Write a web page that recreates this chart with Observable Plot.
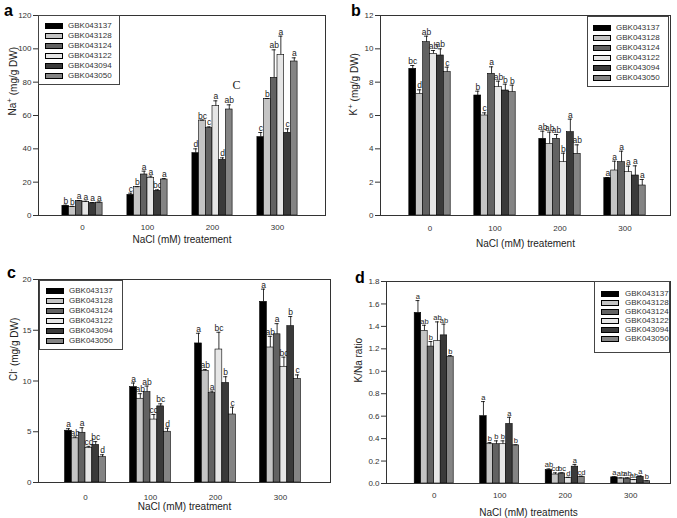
<!DOCTYPE html>
<html><head><meta charset="utf-8">
<script src="https://cdn.jsdelivr.net/npm/d3@7"></script>
<script src="https://cdn.jsdelivr.net/npm/@observablehq/plot@0.6"></script>
<style>
body{margin:0;background:#fff;}
#wrap{position:relative;width:677px;height:518px;overflow:hidden;font-family:"Liberation Sans",Arial,sans-serif;background:#fff;}
.panel{position:absolute;}
.letter{position:absolute;font-weight:bold;font-size:16px;line-height:16px;color:#000;}
.legend{position:absolute;border:1px solid #444;background:#fff;box-sizing:border-box;}
.sw{position:absolute;width:18px;height:6px;border:1px solid #000;box-sizing:border-box;}
.lt{position:absolute;font-size:8px;line-height:8px;color:#333;white-space:nowrap;}
</style></head>
<body><div id="wrap"></div>
<script>
const treatments = [0, 100, 200, 300];
const genotypes = ["GBK043137","GBK043128","GBK043124","GBK043122","GBK043094","GBK043050"];
const fills = ["#000000","#c4c4c4","#626262","#e6e6e6","#3a3a3a","#848484"];

// Panel a: Na+
const naMean = [[5.8,5.2,8.6,8.0,7.4,7.7],[12.4,17.0,24.6,22.6,14.8,21.6],[37.4,57.0,52.4,65.6,33.4,63.6],[47.0,70.0,82.6,96.4,49.6,92.4]];
const naErr  = [[0.4,0.3,0.4,0.6,0.3,0.4],[1.0,0.3,2.0,1.0,0.6,0.6],[2.6,0.2,0.8,3.2,1.2,2.8],[2.8,0.2,16.8,11.2,2.4,2.2]];
const naLet  = [["b","b","a","a","a","a"],["c","b","a","a","bc","a"],["d","bc","c","a","d","ab"],["c","b","ab","a","c","a"]];
const naTicks = [0,20,40,60,80,100,120];
const naNote = [{t:200, y:78, text:"C"}];

// Panel b: K+
const kMean = [[8.8,7.3,10.4,9.7,9.6,8.6],[7.2,6.0,8.5,7.7,7.5,7.4],[4.6,4.3,4.6,3.2,5.0,3.7],[2.24,2.7,3.2,2.6,2.4,1.8]];
const kErr  = [[0.2,0.24,0.36,0.2,0.4,0.3],[0.26,0.16,0.42,0.36,0.38,0.42],[0.46,0.7,0.26,0.54,0.78,0.54],[0.04,0.56,0.66,0.36,0.58,0.36]];
const kLet  = [["bc","d","ab","ab","ab","c"],["b","c","a","ab","b","b"],["ab","ab","ab","b","a","ab"],["a","a","a","a","a","a"]];
const kTicks = [0,2,4,6,8,10,12];

// Panel c: Cl-
const clMean = [[5.1,4.35,4.9,3.4,3.7,2.5],[9.4,8.25,8.9,6.2,7.5,5.0],[13.7,11.0,8.8,13.1,9.8,6.7],[17.8,13.3,14.6,11.4,15.4,10.2]];
const clErr  = [[0.2,0.13,0.5,0.16,0.33,0.23],[0.4,0.5,0.6,0.5,0.25,0.35],[1.0,0.13,0.2,1.7,0.62,0.72],[1.25,1.1,1.05,0.95,0.95,0.4]];
const clLet  = [["a","ab","a","cd","bc","d"],["a","ab","ab","cd","bc","d"],["a","ab","a","bc","b","c"],["a","ab","a","bc","b","c"]];
const clTicks = [0,5,10,15,20];

// Panel d: K/Na ratio
const rMean = [[1.52,1.36,1.22,1.27,1.32,1.13],[0.60,0.35,0.35,0.35,0.53,0.34],[0.12,0.08,0.09,0.05,0.15,0.06],[0.055,0.045,0.045,0.03,0.06,0.02]];
const rErr  = [[0.11,0.05,0.045,0.17,0.1,0.01],[0.13,0.015,0.03,0.03,0.06,0.005],[0.01,0.015,0.005,0.005,0.02,0.005],[0.005,0.005,0.005,0.005,0.008,0.004]];
const rLet  = [["a","ab","b","ab","ab","b"],["a","b","b","b","a","b"],["ab","cd","bc","d","a","cd"],["a","ab","ab","ab","a","b"]];
const rTicks = [0,0.2,0.4,0.6,0.8,1.0,1.2,1.4,1.6,1.8];

const panels = [
  {id:"a", mean:naMean, err:naErr, let:naLet, ticks:naTicks, fmt:d=>d, notes:naNote, lfs:8.5,
   ylab:["Na","+"," (mg/g DW)"], xlab:"NaCl (mM) treatement",
   left:0, top:0, w:338, h:258, mL:38, mR:13, mT:15, mB:43, c0:82, step:65, bw:6.7, tp:8.5, xdy:24, ydx:-26,
   letter:{x:4,y:3}, legend:{x:38,y:15,w:82,h:70,sx:6,tx:29,r0:10,rs:10}},
  {id:"b", mean:kMean, err:kErr, let:kLet, ticks:kTicks, fmt:d=>d, notes:[], lfs:8.5,
   ylab:["K","+"," (mg/g DW)"], xlab:"NaCl (mM) treatement",
   left:338, top:0, w:339, h:258, mL:42, mR:7, mT:15, mB:43, c0:91.5, step:65, bw:6.9, tp:9.5, xdy:28, ydx:-27,
   letter:{x:13,y:3}, legend:{x:587,y:16,w:82,h:71,sx:5,tx:28,r0:10.5,rs:10}},
  {id:"c", mean:clMean, err:clErr, let:clLet, ticks:clTicks, fmt:d=>d, notes:[], lfs:8.5,
   ylab:["Cl","-"," (mg/g DW)"], xlab:"NaCl (mM) treatment",
   left:0, top:258, w:338, h:260, mL:38, mR:8, mT:21, mB:36, c0:85, step:65, bw:6.8, tp:11.5, xdy:24, ydx:-25,
   letter:{x:7,y:7}, legend:{x:39,y:280,w:84,h:70,sx:6,tx:29,r0:10.3,rs:9.9}},
  {id:"d", mean:rMean, err:rErr, let:rLet, ticks:rTicks, fmt:d3.format(".1f"), notes:[], lfs:7.5,
   ylab:["K/Na ratio","",""], xlab:"NaCl (mM) treatments",
   left:338, top:258, w:339, h:260, mL:48, mR:7, mT:23, mB:35, c0:95.7, step:65.5, bw:6.5, tp:9, xdy:29, ydx:-28,
   letter:{x:17,y:12}, legend:{x:594,y:281,w:76,h:72,sx:6,tx:30,r0:12,rs:9}}
];

const wrap = document.getElementById("wrap");
const font = "'Liberation Sans', Arial, sans-serif";

for (const p of panels) {
  const rows = [];
  treatments.forEach((t, ti) => genotypes.forEach((g, gi) =>
    rows.push({t, g, gi, v: p.mean[ti][gi], e: p.err[ti][gi], lab: p.let[ti][gi]})));
  const bw = p.bw;
  const marks = [];
  genotypes.forEach((g, gi) => {
    const d = rows.filter(r => r.gi === gi);
    const off = (gi - 2.5) * bw;
    marks.push(Plot.barY(d, {x: "t", y: "v", insetLeft: gi * bw, insetRight: (5 - gi) * bw,
      fill: fills[gi], stroke: "#000", strokeWidth: 0.6}));
    marks.push(Plot.ruleX(d, {x: "t", y1: "v", y2: r => r.v + r.e, dx: off, stroke: "#000", strokeWidth: 0.8}));
    marks.push(Plot.tickY(d, {x: "t", y: r => r.v + r.e, insetLeft: gi * bw + bw * 0.2,
      insetRight: (5 - gi) * bw + bw * 0.2, stroke: "#000", strokeWidth: 0.8}));
    marks.push(Plot.text(d, {x: "t", y: r => r.v + r.e, text: "lab", dx: off, dy: -1.5,
      lineAnchor: "bottom", fontSize: p.lfs, fill: "#222"}));
  });
  for (const n of p.notes) {
    marks.push(Plot.text([n], {x: "t", y: "y", text: "text", dx: 24, fontFamily: "'Liberation Serif', 'DejaVu Serif', serif", fontSize: 12, fill: "#222"}));
  }
  marks.push(Plot.frame({stroke: "#333", strokeWidth: 1}));
  marks.push(Plot.text([p.xlab], {frameAnchor: "bottom", dy: p.xdy, lineAnchor: "middle", fontSize: 10, fill: "#222"}));
  marks.push(Plot.text([p.ylab.join("")], {frameAnchor: "left", dx: p.ydx, rotate: -90, lineAnchor: "middle", fontSize: 10, fill: "#222"}));

  const W = 3 * p.step + 6 * bw;
  const r0 = p.c0 - 3 * bw;
  const chart = Plot.plot({
    width: p.w, height: p.h,
    marginLeft: p.mL, marginRight: p.mR, marginTop: p.mT, marginBottom: p.mB,
    style: {fontFamily: font, fontSize: "8px", background: "transparent", color: "#333", overflow: "visible"},
    x: {type: "band", domain: treatments, range: [r0, r0 + W], paddingInner: (p.step - 6 * bw) / p.step,
        paddingOuter: 0, round: false, tickSize: 0, tickPadding: p.tp, label: null},
    y: {domain: [0, p.ticks[p.ticks.length - 1]], ticks: p.ticks, tickFormat: p.fmt, tickSize: 5, tickPadding: 2, label: null},
    marks
  });
  chart.classList.add("panel");
  chart.style.left = p.left + "px";
  chart.style.top = p.top + "px";
  chart.style.position = "absolute";
  if (p.ylab[1]) {
    chart.querySelectorAll("text").forEach(el => {
      if (el.textContent === p.ylab.join("")) {
        el.textContent = "";
        const ns = "http://www.w3.org/2000/svg";
        const a = document.createElementNS(ns, "tspan"); a.textContent = p.ylab[0];
        const b = document.createElementNS(ns, "tspan"); b.textContent = p.ylab[1];
        b.setAttribute("dy", "-0.45em"); b.setAttribute("font-size", "8");
        const c = document.createElementNS(ns, "tspan"); c.textContent = p.ylab[2];
        c.setAttribute("dy", "0.45em");
        el.append(a, b, c);
      }
    });
  }
  wrap.appendChild(chart);

  const L = document.createElement("div");
  L.className = "letter";
  L.textContent = p.id;
  L.style.left = (p.left + p.letter.x) + "px";
  L.style.top = (p.top + p.letter.y) + "px";
  wrap.appendChild(L);

  const lg = p.legend;
  const box = document.createElement("div");
  box.className = "legend";
  Object.assign(box.style, {left: lg.x + "px", top: lg.y + "px", width: lg.w + "px", height: lg.h + "px"});
  genotypes.forEach((g, gi) => {
    const cy = lg.r0 + gi * lg.rs;
    const sw = document.createElement("div");
    sw.className = "sw";
    Object.assign(sw.style, {left: lg.sx + "px", top: (cy - 3) + "px", background: fills[gi]});
    const tx = document.createElement("div");
    tx.className = "lt";
    tx.textContent = g;
    Object.assign(tx.style, {left: lg.tx + "px", top: (cy - 4) + "px"});
    box.append(sw, tx);
  });
  wrap.appendChild(box);
}
</script>
</body></html>
